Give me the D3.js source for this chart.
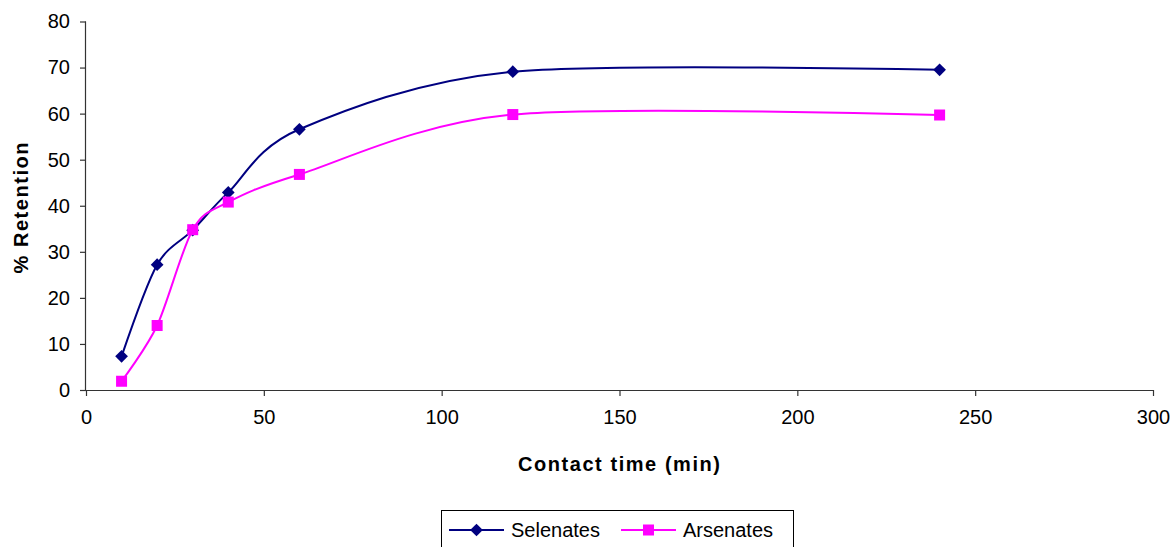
<!DOCTYPE html>
<html>
<head>
<meta charset="utf-8">
<script src="https://cdn.jsdelivr.net/npm/d3@7"></script>
<style>
  html, body { margin: 0; padding: 0; background: #fff; }
  svg { display: block; }
  text { font-family: "Liberation Sans", Arial, sans-serif; fill: #000; }
</style>
</head>
<body>
<svg id="chart" width="1173" height="547"></svg>
<script>
// ---- data ----
const contactTimes = [10, 20, 30, 40, 60, 120, 240];
const selenates = [7.3, 27.2, 34.7, 42.9, 56.6, 69.1, 69.5];
const arsenates = [1.9, 14.0, 34.8, 40.8, 46.8, 59.8, 59.7];
const seriesNames = ["Selenates", "Arsenates"];
const xTicks = [0, 50, 100, 150, 200, 250, 300];
const yTicks = [0, 10, 20, 30, 40, 50, 60, 70, 80];
const xTitle = "Contact time (min)";
const yTitle = "% Retention";

// ---- layout ----
const svg = d3.select("#chart");
const mLeft = 86, mRight = 1153, mTop = 21.5, mBottom = 390;
const x = d3.scaleLinear().domain([0, 300]).range([mLeft, mRight]);
const y = d3.scaleLinear().domain([0, 80]).range([mBottom, mTop]);
const axisColor = "#333";
const colors = ["#000080", "#FF00FF"];

// axes
const xAxis = svg.append("g").attr("transform", `translate(0,${mBottom})`)
  .call(d3.axisBottom(x).tickValues(xTicks).tickSize(6).tickPadding(14).tickFormat(d3.format("d")));
const yAxis = svg.append("g").attr("transform", `translate(${mLeft},0)`)
  .call(d3.axisLeft(y).tickValues(yTicks).tickSize(6).tickPadding(10).tickFormat(d3.format("d")));
[xAxis, yAxis].forEach(g => {
  g.select(".domain").attr("stroke", axisColor).attr("stroke-width", 1.2);
  g.selectAll(".tick line").attr("stroke", axisColor).attr("stroke-width", 1.2);
  g.selectAll(".tick text").style("font-size", "20px").style("font-family", "Liberation Sans, Arial, sans-serif").attr("fill", "#000");
});
xAxis.select(".domain").attr("d", `M${mLeft},0.5H${mRight}`);
yAxis.select(".domain").attr("d", `M-0.5,${mTop}V${mBottom}`);

// axis titles
svg.append("text").attr("x", 619).attr("y", 471)
  .attr("text-anchor", "middle").style("font-size", "20px").style("font-weight", "bold")
  .attr("textLength", 202).attr("lengthAdjust", "spacing")
  .text(xTitle);
svg.append("text").attr("transform", `translate(28,208) rotate(-90)`)
  .attr("text-anchor", "middle").style("font-size", "20px").style("font-weight", "bold")
  .attr("textLength", 131).attr("lengthAdjust", "spacing")
  .text(yTitle);

// lines
const seriesData = [selenates, arsenates];
const line = d3.line().x(d => x(d[0])).y(d => y(d[1])).curve(d3.curveCardinal.tension(0.1));
seriesData.forEach((vals, i) => {
  const pts = contactTimes.map((t, j) => [t, vals[j]]);
  svg.append("path").datum(pts).attr("d", line)
    .attr("fill", "none").attr("stroke", colors[i]).attr("stroke-width", 2);
});

// markers
function drawMarker(g, i, cx, cy) {
  if (i === 0) {
    g.append("path").attr("d", d3.symbol().type(d3.symbolSquare).size(81)())
      .attr("transform", `translate(${cx},${cy}) rotate(45)`).attr("fill", colors[0]);
  } else {
    g.append("rect").attr("x", cx - 5.5).attr("y", cy - 5.5).attr("width", 11).attr("height", 11)
      .attr("fill", colors[1]);
  }
}
seriesData.forEach((vals, i) => {
  const g = svg.append("g");
  contactTimes.forEach((t, j) => drawMarker(g, i, x(t), y(vals[j])));
});

// legend
const lg = svg.append("g");
lg.append("rect").attr("x", 441.5).attr("y", 510.5).attr("width", 352).attr("height", 45)
  .attr("fill", "#fff").attr("stroke", "#000").attr("stroke-width", 1);
const legendItems = [
  { lx1: 449, lx2: 504, mx: 476.5, tx: 511 },
  { lx1: 621, lx2: 676, mx: 648.5, tx: 683 }
];
legendItems.forEach((it, i) => {
  lg.append("line").attr("x1", it.lx1).attr("x2", it.lx2).attr("y1", 530).attr("y2", 530)
    .attr("stroke", colors[i]).attr("stroke-width", 2);
  drawMarker(lg, i, it.mx, 530);
  lg.append("text").attr("x", it.tx).attr("y", 537).style("font-size", "20px").text(seriesNames[i]);
});
</script>
</body>
</html>
